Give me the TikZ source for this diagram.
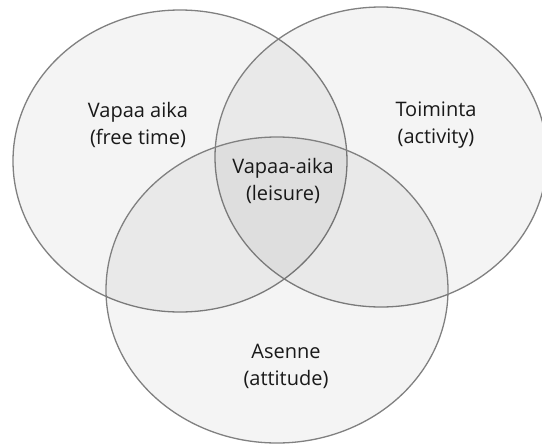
\documentclass[tikz,border=0pt]{standalone}
\usepackage{fontspec}
\setmainfont{Open Sans}

\begin{document}
\begin{tikzpicture}[x=1pt,y=-1pt,
	set/.style={draw=black!50,line width=1.3pt,fill=black,fill opacity=0.045},
	lbl/.style={align=center,font=\fontsize{20}{27}\selectfont,text=black!90}]
	\fill[white] (0,0) rectangle (542,445);
	\clip (0,0) rectangle (542,445);
	\draw[set] (180,161) ellipse [x radius=167pt,y radius=151pt];
	\draw[set] (381,157) ellipse [x radius=166pt,y radius=150pt];
	\draw[set] (277,290) ellipse [x radius=171pt,y radius=153pt];
	\node (free) at (138,125)[lbl] {Vapaa aika\\(free time)};
	\node (act) at (436,125)[lbl] {Toiminta\\(activity)};
	\node (leis) at (283,181)[lbl] {Vapaa-aika\\(leisure)};
	\node (att) at (286,366)[lbl] {Asenne\\(attitude)};
\end{tikzpicture}
\end{document}
